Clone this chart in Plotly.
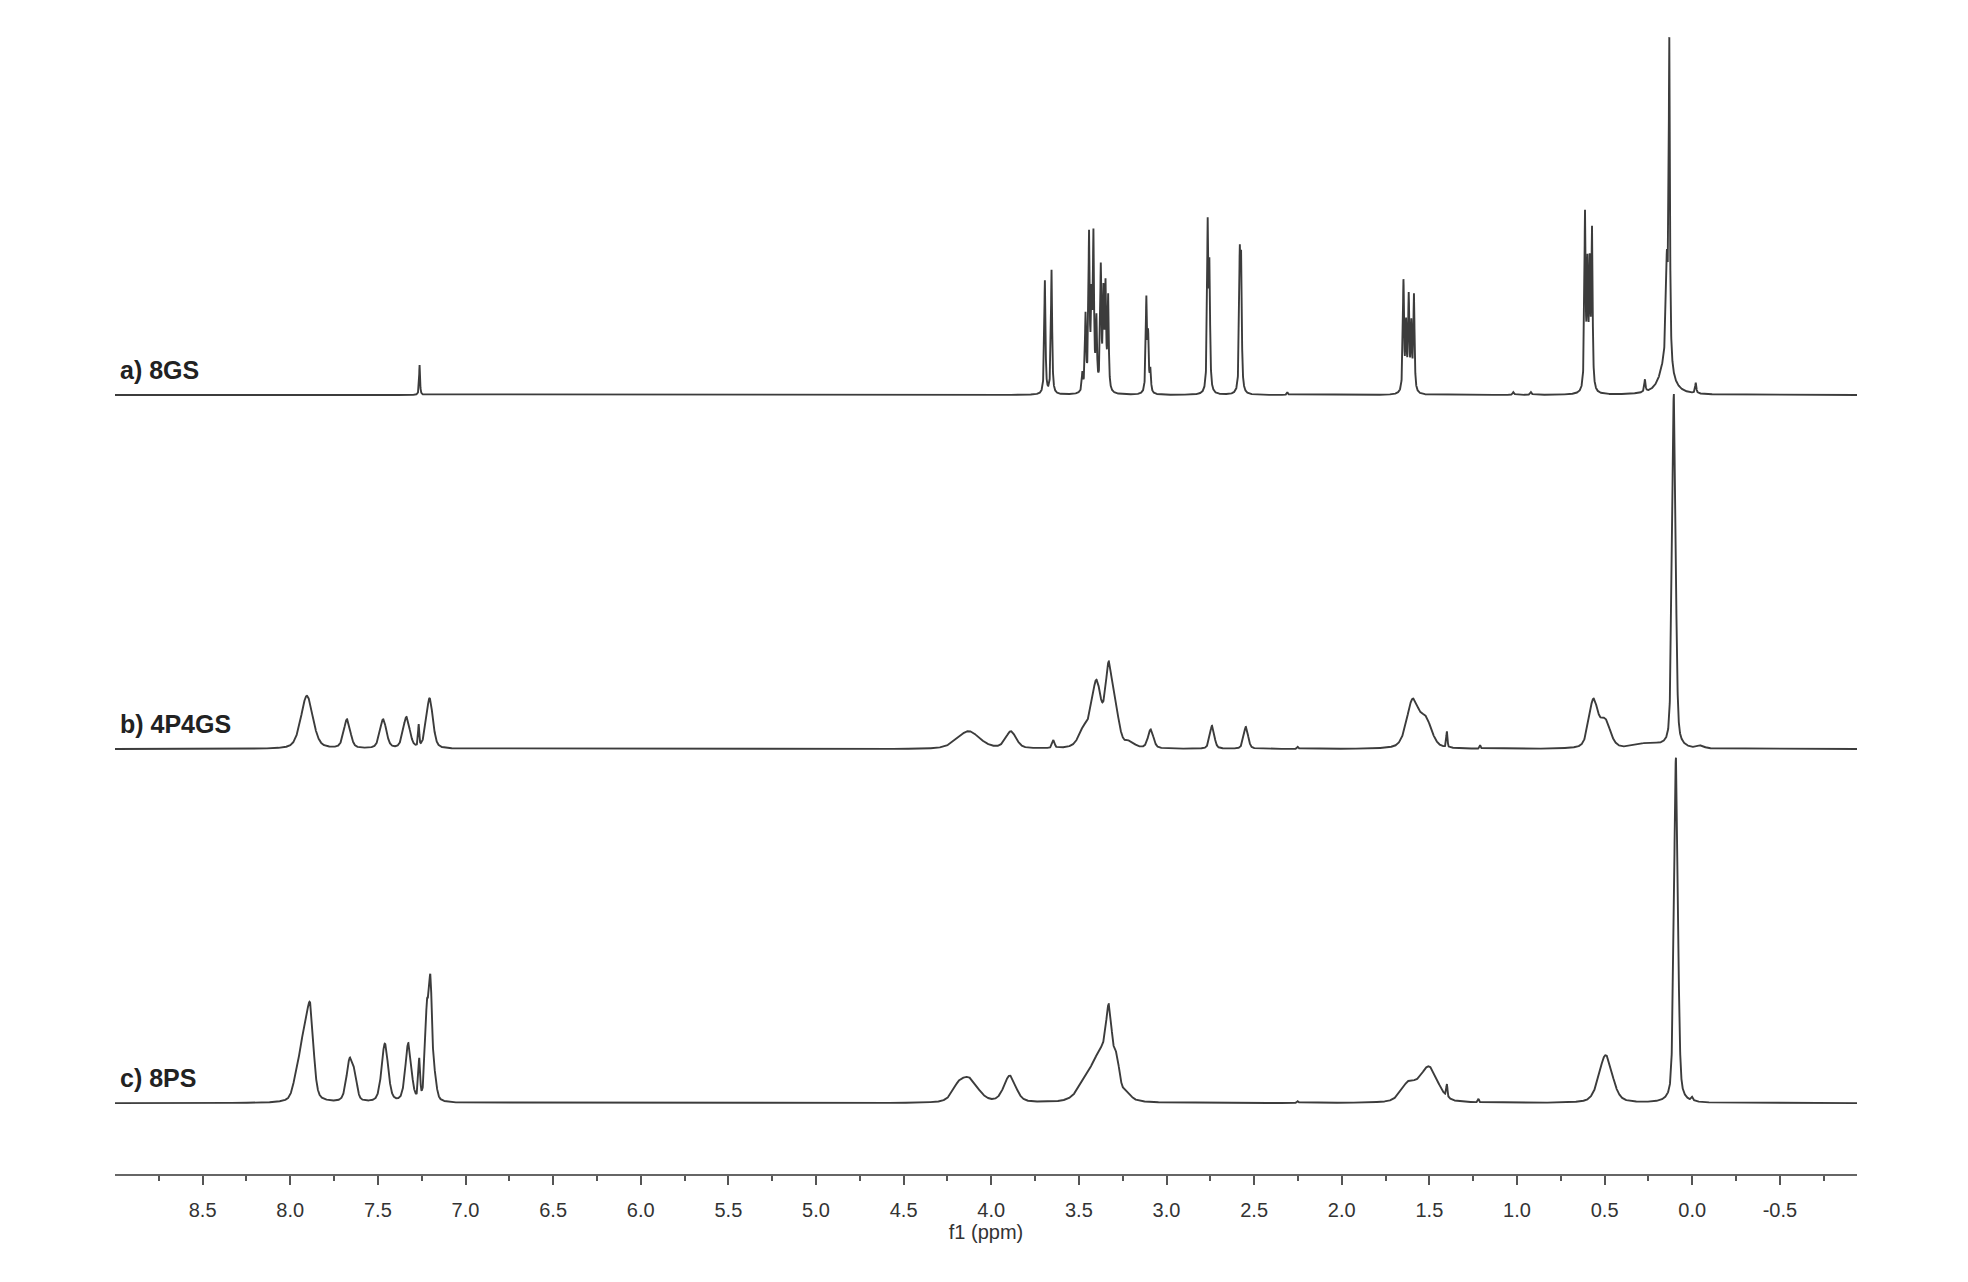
import numpy as np
import plotly.graph_objects as go

# ---------------- data ----------------
labels = ["a) 8GS", "b) 4P4GS", "c) 8PS"]

# spectrum a) 8GS : peak centres (ppm), heights, half-widths (ppm)
a_ppm = [7.262, 3.694, 3.656, 3.480, 3.462, 3.442, 3.428, 3.417, 3.400, 3.375, 3.360, 3.348, 3.333,
         3.115, 3.105, 3.092, 2.765, 2.755, 2.582, 2.574, 2.310, 1.648, 1.633, 1.618, 1.603, 1.588,
         1.020, 0.920, 0.612, 0.598, 0.585, 0.572, 0.270, 0.145, 0.131, 0.150, -0.020]
a_h = [0.085, 0.32, 0.35, 0.05, 0.21, 0.43, 0.23, 0.42, 0.19, 0.34, 0.26, 0.28, 0.26,
       0.26, 0.15, 0.06, 0.46, 0.33, 0.36, 0.34, 0.008, 0.31, 0.18, 0.26, 0.18, 0.27,
       0.008, 0.008, 0.49, 0.33, 0.33, 0.44, 0.035, 0.26, 0.90, 0.09, 0.03]
a_w = [0.003, 0.004, 0.004, 0.004, 0.004, 0.004, 0.004, 0.004, 0.004, 0.004, 0.004, 0.004, 0.004,
       0.004, 0.004, 0.004, 0.004, 0.004, 0.004, 0.004, 0.004, 0.004, 0.004, 0.004, 0.004, 0.004,
       0.005, 0.005, 0.004, 0.004, 0.004, 0.004, 0.004, 0.006, 0.004, 0.040, 0.004]

# spectrum b) 4P4GS
b_ppm = [7.905, 7.676, 7.470, 7.337, 7.267, 7.205, 4.130, 3.888, 3.645, 3.470, 3.400, 3.330, 3.290,
         3.210, 3.090, 2.740, 2.547, 2.250, 1.596, 1.520, 1.400, 1.210, 0.565, 0.497, 0.250, 0.105, -0.050]
b_h = [0.150, 0.082, 0.082, 0.088, 0.06, 0.142, 0.05, 0.048, 0.022, 0.05, 0.18, 0.21, 0.09,
       0.015, 0.053, 0.065, 0.062, 0.006, 0.132, 0.075, 0.045, 0.01, 0.132, 0.075, 0.015, 1.00, 0.008]
b_w = [0.040, 0.022, 0.022, 0.022, 0.004, 0.022, 0.075, 0.035, 0.008, 0.035, 0.032, 0.022, 0.025,
       0.030, 0.018, 0.015, 0.015, 0.005, 0.040, 0.040, 0.004, 0.004, 0.030, 0.035, 0.080, 0.012, 0.020]

# spectrum c) 8PS
c_ppm = [7.960, 7.920, 7.885, 7.660, 7.630, 7.460, 7.326, 7.264, 7.220, 7.200, 7.180, 4.190, 4.126,
         3.894, 3.450, 3.370, 3.328, 3.285, 3.230, 2.250, 1.620, 1.503, 1.400, 1.220, 0.494, 0.093, 0.000]
c_h = [0.07, 0.16, 0.23, 0.12, 0.05, 0.165, 0.165, 0.11, 0.25, 0.29, 0.07, 0.03, 0.065,
       0.075, 0.06, 0.12, 0.19, 0.095, 0.02, 0.005, 0.05, 0.10, 0.035, 0.01, 0.135, 0.975, 0.01]
c_w = [0.025, 0.025, 0.022, 0.022, 0.015, 0.022, 0.020, 0.006, 0.012, 0.010, 0.015, 0.040, 0.060,
       0.040, 0.060, 0.050, 0.020, 0.020, 0.030, 0.005, 0.050, 0.060, 0.004, 0.004, 0.045, 0.013, 0.006]

tick_vals = [8.5, 8.0, 7.5, 7.0, 6.5, 6.0, 5.5, 5.0, 4.5, 4.0, 3.5, 3.0, 2.5, 2.0, 1.5, 1.0, 0.5, 0.0, -0.5]
tick_text = ["8.5", "8.0", "7.5", "7.0", "6.5", "6.0", "5.5", "5.0", "4.5", "4.0", "3.5", "3.0",
             "2.5", "2.0", "1.5", "1.0", "0.5", "0.0", "-0.5"]
minor_vals = [8.75, 8.25, 7.75, 7.25, 6.75, 6.25, 5.75, 5.25, 4.75, 4.25, 3.75, 3.25, 2.75, 2.25,
              1.75, 1.25, 0.75, 0.25, -0.25, -0.75]

# ---------------- build spectra ----------------
X_LEFT, X_RIGHT = 9.0, -0.94
grid = np.arange(X_RIGHT, X_LEFT + 0.00025, 0.0005)


def spectrum(centres, heights, widths, eta):
    y = np.zeros_like(grid)
    for c, h, w in zip(centres, heights, widths):
        d = grid - c
        lor = w * w / (d * d + w * w)
        gau = np.exp(-np.log(2) * (d / w) ** 2)
        y += h * (eta * lor + (1 - eta) * gau)
    return y


spectra = [
    spectrum(a_ppm, a_h, a_w, 0.9),
    spectrum(b_ppm, b_h, b_w, 0.4),
    spectrum(c_ppm, c_h, c_w, 0.4),
]
offsets = [2.0, 1.0, 0.0]

LINE = "#3c3c3c"
FONT = "Liberation Sans, Arial, sans-serif"
fig = go.Figure()
for name, ys, off in zip(labels, spectra, offsets):
    fig.add_trace(go.Scatter(x=grid, y=ys + off, mode="lines", name=name,
                             line=dict(color=LINE, width=1.9), hoverinfo="skip"))
    fig.add_annotation(x=8.985, y=off + 0.07, xref="x", yref="y", text=f"<b>{name}</b>",
                       showarrow=False, xanchor="left", yanchor="middle",
                       font=dict(family=FONT, size=25, color="#222222"))

fig.update_layout(
    width=1968, height=1282,
    margin=dict(l=107, r=119, t=22, b=116),
    paper_bgcolor="white", plot_bgcolor="white",
    showlegend=False,
    font=dict(family=FONT, color="#333333"),
)
fig.update_xaxes(
    range=[X_LEFT, X_RIGHT], showgrid=False, zeroline=False,
    showline=True, linecolor="#666666", linewidth=2,
    ticks="outside", tickcolor="#555555", ticklen=9, tickwidth=1.5,
    tickmode="array", tickvals=tick_vals, ticktext=tick_text,
    tickfont=dict(size=20, color="#333333"), ticklabelstandoff=8,
    minor=dict(tickmode="array", tickvals=minor_vals, ticks="outside", ticklen=5,
               tickcolor="#555555", tickwidth=1.5, showgrid=False),
    title=dict(text="f1 (ppm)", font=dict(size=20, color="#333333"), standoff=1),
)
fig.update_yaxes(range=[-0.2, 3.031], visible=False, showgrid=False, zeroline=False)

fig.write_html("out.html")
